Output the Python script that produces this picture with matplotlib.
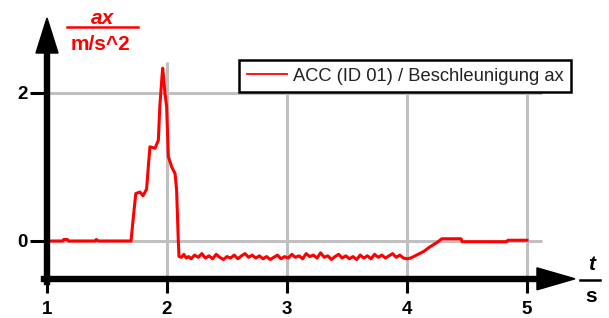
import matplotlib
matplotlib.use('Agg')
import matplotlib.pyplot as plt
from matplotlib.patches import Polygon
from matplotlib.lines import Line2D

# ---------------- data ----------------
time_s = [1.00, 1.13, 1.14, 1.17, 1.18, 1.40, 1.41, 1.43, 1.70,
          1.72, 1.74, 1.775, 1.80, 1.83, 1.844, 1.858, 1.90, 1.928, 1.94,
          1.956, 1.964, 1.975, 1.983, 1.997, 2.011, 2.039, 2.067, 2.08,
          2.094, 2.10,
          2.12, 2.14, 2.16, 2.18, 2.20, 2.23, 2.26, 2.29, 2.32, 2.35,
          2.38, 2.41, 2.44, 2.47, 2.50, 2.53, 2.56, 2.59, 2.62, 2.65,
          2.68, 2.71, 2.74, 2.77, 2.80, 2.83, 2.86, 2.89, 2.92, 2.95,
          2.98, 3.01, 3.04, 3.07, 3.10, 3.13, 3.16, 3.19, 3.22, 3.25,
          3.28, 3.31, 3.34, 3.37, 3.40, 3.43, 3.46, 3.49, 3.52, 3.55,
          3.58, 3.61, 3.64, 3.67, 3.70, 3.73, 3.76, 3.79, 3.82, 3.85,
          3.88, 3.91, 3.94, 3.97, 4.00, 4.03, 4.08, 4.14, 4.19, 4.25,
          4.29, 4.45, 4.46, 4.83, 4.84, 5.00]
accel = [0.00, 0.00, 0.02, 0.02, 0.00, 0.00, 0.02, 0.00, 0.00,
         0.33, 0.64, 0.66, 0.61, 0.70, 1.00, 1.27, 1.25, 1.36, 1.81,
         2.17, 2.33, 2.15, 1.99, 1.81, 1.14, 1.00, 0.91, 0.69,
         0.01, -0.21,
         -0.22, -0.18, -0.23, -0.21, -0.24, -0.19, -0.22, -0.17, -0.23, -0.20,
         -0.24, -0.18, -0.22, -0.25, -0.21, -0.23, -0.19, -0.24, -0.20, -0.17,
         -0.22, -0.19, -0.23, -0.20, -0.24, -0.21, -0.25, -0.22, -0.19, -0.24,
         -0.21, -0.23, -0.18, -0.22, -0.20, -0.24, -0.17, -0.21, -0.19, -0.23,
         -0.16, -0.22, -0.20, -0.25, -0.21, -0.18, -0.23, -0.20, -0.24, -0.21,
         -0.25, -0.19, -0.23, -0.20, -0.24, -0.18, -0.22, -0.19, -0.23, -0.20,
         -0.17, -0.22, -0.19, -0.23, -0.24, -0.23, -0.19, -0.14, -0.08, -0.02,
         0.03, 0.03, -0.01, -0.01, 0.01, 0.01]
x_ticks = [1, 2, 3, 4, 5]
y_ticks = [0, 2]
series_label = 'ACC (ID 01) / Beschleunigung ax'
y_name, y_unit = 'ax', 'm/s^2'
x_name, x_unit = 't', 's'

# ---------------- styling / layout ----------------
plt.rcParams['font.family'] = ['Liberation Sans', 'DejaVu Sans']
W, H = 609, 318
RED = '#ff0000'
GRID = '#c0c0c0'


def fx(px):
    return px / W


def fy(py):
    return 1 - py / H


fig = plt.figure(figsize=(W / 100, H / 100), dpi=100)
ax = fig.add_axes([0, 0, 1, 1])
ax.set_xlim(0.6083, 5.6833)
ax.set_ylim(-1.0384, 3.250)
ax.patch.set_visible(False)

x_axis_y = -0.51

# grid (limited extent)
ax.vlines(x_ticks, x_axis_y, 2.41, color=GRID, lw=2.2, zorder=1)
ax.hlines(y_ticks, 1, 5.125, color=GRID, lw=2.2, zorder=1)

# spines as axes
for s in ['top', 'right']:
    ax.spines[s].set_visible(False)
ax.spines['left'].set_position(('data', 1))
ax.spines['left'].set_bounds(x_axis_y - 0.04, 2.56)
ax.spines['bottom'].set_position(('data', x_axis_y))
ax.spines['bottom'].set_bounds(0.975, 5.10)
for s in ['left', 'bottom']:
    ax.spines[s].set_linewidth(4.6)
    ax.spines[s].set_color('black')
    ax.spines[s].set_zorder(4)

ax.set_xticks(x_ticks)
ax.set_yticks(y_ticks)
ax.set_xticklabels([str(v) for v in x_ticks])
ax.set_yticklabels([str(v) for v in y_ticks])
ax.tick_params(axis='x', direction='out', length=10, width=2.2, pad=6,
               labelsize=13.5)
ax.tick_params(axis='y', direction='out', length=12, width=2.2, pad=2,
               labelsize=13.5)
for lab in ax.get_xticklabels() + ax.get_yticklabels():
    lab.set_fontweight('bold')

# arrow heads
ax.add_patch(Polygon([(1 - 0.0917, 2.535), (1 + 0.0917, 2.535), (1, 3.007)],
                     closed=True, color='black', zorder=5, clip_on=False))
ax.add_patch(Polygon([(5.083, x_axis_y - 0.148), (5.083, x_axis_y + 0.148),
                      (5.40, x_axis_y)],
                     closed=True, color='black', zorder=5, clip_on=False))

# data
ax.plot(time_s, accel, color=RED, lw=2.2, label=series_label, zorder=3)

# legend
leg = ax.legend(loc='upper left', bbox_to_anchor=(fx(239), fy(60)),
                bbox_transform=fig.transFigure, borderaxespad=0,
                frameon=True, fancybox=False, framealpha=1,
                edgecolor='black', prop={'size': 13.2},
                handlelength=2.2, handletextpad=0.3, borderpad=0.42)
leg.get_frame().set_linewidth(1.8)
for ln in leg.get_lines():
    ln.set_linewidth(1.3)
for t in leg.get_texts():
    t.set_color('#222222')

# y-axis name / unit
fig.text(fx(103), fy(18), y_name, color=RED, fontsize=15, fontweight='bold',
         fontstyle='italic', ha='center', va='center')
fig.add_artist(Line2D([fx(67), fx(138)], [fy(27), fy(27)], color=RED, lw=1.8,
                      transform=fig.transFigure))
fig.text(fx(101), fy(45), y_unit, color=RED, fontsize=15, fontweight='bold',
         ha='center', va='center')

# x-axis name / unit
fig.text(fx(592), fy(264), x_name, color='black', fontsize=15,
         fontweight='bold', fontstyle='italic', ha='center', va='center')
fig.add_artist(Line2D([fx(580), fx(600)], [fy(280), fy(280)], color='black',
                      lw=1.8, transform=fig.transFigure))
fig.text(fx(591), fy(296), x_unit, color='black', fontsize=15,
         fontweight='bold', ha='center', va='center')

fig.savefig('out.png', dpi=100)
